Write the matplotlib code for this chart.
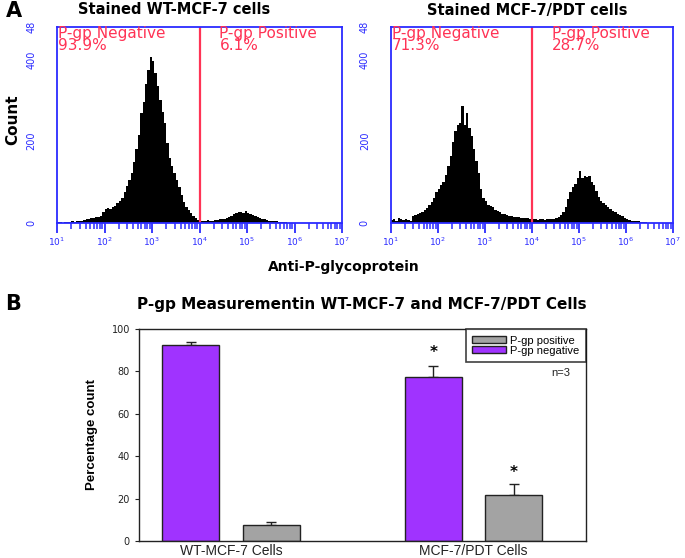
import matplotlib
matplotlib.use("Agg")
import matplotlib.pyplot as plt
import numpy as np
from matplotlib.ticker import LogLocator, FixedLocator, NullFormatter

# flow cytometry histograms, 120 bins spanning 10^1 .. 10^7
LOG_RANGE = (1, 7)
WT_COUNTS = [
    3, 2, 1, 2, 3, 2, 4, 3, 4, 5,
    6, 7, 9, 10, 12, 13, 15, 14, 18, 26,
    34, 37, 35, 40, 42, 48, 55, 62, 75, 90,
    105, 122, 150, 180, 215, 268, 295, 340, 375, 405,
    395, 368, 335, 300, 272, 245, 195, 160, 140, 122,
    105, 88, 68, 52, 40, 31, 25, 18, 12, 8,
    5, 6, 5, 7, 6, 6, 7, 8, 9, 10,
    11, 13, 15, 18, 21, 24, 26, 28, 25, 29,
    24, 21, 19, 17, 15, 13, 11, 10, 8, 6,
    5, 4, 4, 3, 2, 3, 2, 1, 1, 0,
    0, 0, 0, 0, 0, 0, 0, 0, 0, 0,
    0, 0, 0, 0, 0, 0, 0, 0, 0, 0,
]
PDT_COUNTS = [
    8, 10, 6, 12, 9, 7, 11, 8, 6, 18,
    20, 22, 24, 27, 31, 36, 44, 52, 62, 76,
    84, 92, 100, 118, 140, 165, 198, 225, 240, 245,
    285, 240, 270, 232, 212, 180, 152, 122, 82, 62,
    55, 45, 42, 38, 33, 29, 26, 23, 21, 19,
    17, 16, 15, 15, 14, 13, 12, 13, 12, 11,
    10, 9, 8, 9, 10, 8, 9, 10, 9, 11,
    12, 15, 20, 28, 40, 58, 75, 88, 96, 110,
    128, 110, 115, 112, 116, 100, 92, 78, 64, 55,
    48, 44, 38, 35, 30, 26, 23, 20, 16, 13,
    10, 8, 6, 5, 4, 4, 3, 2, 2, 1,
    0, 0, 0, 0, 0, 0, 0, 0, 0, 0,
]
GATE = 1e4
DECADES = [1, 2, 3, 4, 5, 6, 7]
HIST_TITLES = ["Stained WT-MCF-7 cells", "Stained MCF-7/PDT cells"]
NEG_PCT = ["93.9%", "71.3%"]
POS_PCT = ["6.1%", "28.7%"]
COUNT_TICKS = [0, 200, 400, 480]
COUNT_LABELS = ["0", "200", "400", "48"]

# bar chart
GROUPS = ["WT-MCF-7 Cells", "MCF-7/PDT Cells"]
NEG_MEAN = [92.5, 77.5]
NEG_ERR = [1.2, 5.0]
POS_MEAN = [7.4, 21.8]
POS_ERR = [1.4, 4.9]
STAR_Y = [88.7, 32.5]

BLUE = "#2b2bff"
RED = "#ff3355"
PURPLE = "#a033ff"
GREY = "#a3a3a3"
NARROW = ["Liberation Sans Narrow", "Liberation Sans", "DejaVu Sans"]
ARIAL = ["Liberation Sans", "DejaVu Sans"]

fig = plt.figure(figsize=(6.85, 5.58), dpi=100)


def hist_panel(rect, counts, title, neg, pos, title_x):
    ax = fig.add_axes(rect)
    n = len(counts)
    edges = np.logspace(LOG_RANGE[0], LOG_RANGE[1], n + 1)
    ax.stairs(counts, edges, fill=True, color="black")
    ax.set_xscale("log")
    ax.set_xlim(10 ** LOG_RANGE[0], 10 ** LOG_RANGE[1])
    ax.set_ylim(0, 480)
    ax.axvline(GATE, color=RED, lw=1.6)
    for s in ax.spines.values():
        s.set_color(BLUE)
        s.set_linewidth(1.3)
    ax.set_xticks([10.0 ** d for d in DECADES])
    ax.set_xticklabels([f"$10^{{{d}}}$" for d in DECADES])
    ax.xaxis.set_minor_locator(LogLocator(base=10, subs=np.arange(2, 10), numticks=10))
    ax.xaxis.set_minor_formatter(NullFormatter())
    ax.tick_params(axis="x", which="major", direction="out", length=7, width=1.3,
                   colors=BLUE, labelsize=6.5, pad=2)
    ax.tick_params(axis="x", which="minor", direction="out", length=4.5, width=1.1,
                   colors=BLUE)
    ax.yaxis.set_major_locator(FixedLocator(COUNT_TICKS))
    ax.set_yticklabels(COUNT_LABELS, rotation=90, va="center")
    ax.tick_params(axis="y", length=0, colors=BLUE, labelsize=7, pad=15)
    kw = dict(transform=ax.transData, color=RED, fontsize=11, va="top", ha="left",
              linespacing=0.78)
    ax.text(10 ** 1.03, 482, "P-gp Negative\n" + neg, **kw)
    ax.text(10 ** 4.42, 482, "P-gp Positive\n" + pos, **kw)
    fig.text(title_x, 1 - 10 / 558, title, ha="center", va="center",
             fontsize=10.5, fontweight="bold")
    return ax


hist_panel([57 / 685, 1 - 223 / 558, 285 / 685, 196.3 / 558], WT_COUNTS,
           HIST_TITLES[0], NEG_PCT[0], POS_PCT[0], 174 / 685)
hist_panel([390.7 / 685, 1 - 223 / 558, 282.3 / 685, 196.3 / 558], PDT_COUNTS,
           HIST_TITLES[1], NEG_PCT[1], POS_PCT[1], 527 / 685)

fig.text(6 / 685, 1 - 11 / 558, "A", fontsize=15, fontweight="bold", va="center")
fig.text(13 / 685, 1 - 120 / 558, "Count", rotation=90, fontsize=11,
         fontweight="bold", ha="center", va="center")
fig.text(344 / 685, 1 - 267 / 558, "Anti-P-glycoprotein", fontsize=10,
         fontweight="bold", ha="center", va="center")

# panel B
fig.text(5 / 685, 1 - 304 / 558, "B", fontsize=15, fontweight="bold", va="center")
fig.text(362 / 685, 1 - 304 / 558, "P-gp Measurementin WT-MCF-7 and MCF-7/PDT Cells",
         fontsize=11, fontweight="bold", ha="center", va="center")

axb = fig.add_axes([139 / 685, 1 - 541 / 558, 447 / 685, 212 / 558])
x = np.arange(len(GROUPS))
off, w = 0.166, 0.235
ekw = dict(ecolor="#222222", elinewidth=1.0, capsize=3.3, capthick=1.0)
axb.bar(x - off, NEG_MEAN, w, color=PURPLE, edgecolor="#222222", lw=1.0,
        label="P-gp negative", zorder=2)
axb.bar(x + off, POS_MEAN, w, color=GREY, edgecolor="#222222", lw=1.0,
        label="P-gp positive", zorder=2)
axb.errorbar(x - off, NEG_MEAN, yerr=[np.zeros(2), NEG_ERR], fmt="none", zorder=1, **ekw)
axb.errorbar(x + off, POS_MEAN, yerr=[np.zeros(2), POS_ERR], fmt="none", zorder=1, **ekw)
axb.text(1 - off, STAR_Y[0], "*", ha="center", va="center", fontsize=11, fontweight="bold")
axb.text(1 + off, STAR_Y[1], "*", ha="center", va="center", fontsize=11, fontweight="bold")
axb.set_xlim(-0.379, 1.463)
axb.set_ylim(0, 100)
axb.set_xticks(x)
axb.set_xticklabels(GROUPS, fontsize=10, color="#222222", family=ARIAL)
axb.tick_params(axis="x", length=0, pad=2)
axb.set_yticks(np.arange(0, 101, 20))
axb.tick_params(axis="y", labelsize=7, length=3, width=0.8, colors="#222222")
for s in axb.spines.values():
    s.set_linewidth(1.0)
    s.set_color("#222222")
axb.set_ylabel("Percentage count", fontsize=9.5, fontweight="bold", labelpad=10,
               family=NARROW)
h, l = axb.get_legend_handles_labels()
leg = axb.legend(h[::-1], l[::-1], loc="upper right", frameon=True,
                 prop={"size": 8, "family": ARIAL},
                 fancybox=False, edgecolor="#111111", borderaxespad=0,
                 handlelength=3.0, handleheight=0.65, labelspacing=0.0,
                 borderpad=0.6, handletextpad=0.4)
leg.get_frame().set_linewidth(1.2)
axb.text(0.965, 79.2, "n=3", transform=axb.get_yaxis_transform(), ha="right",
         va="center", fontsize=8, color="#222222", family=ARIAL)

fig.savefig("out.png", dpi=100)
